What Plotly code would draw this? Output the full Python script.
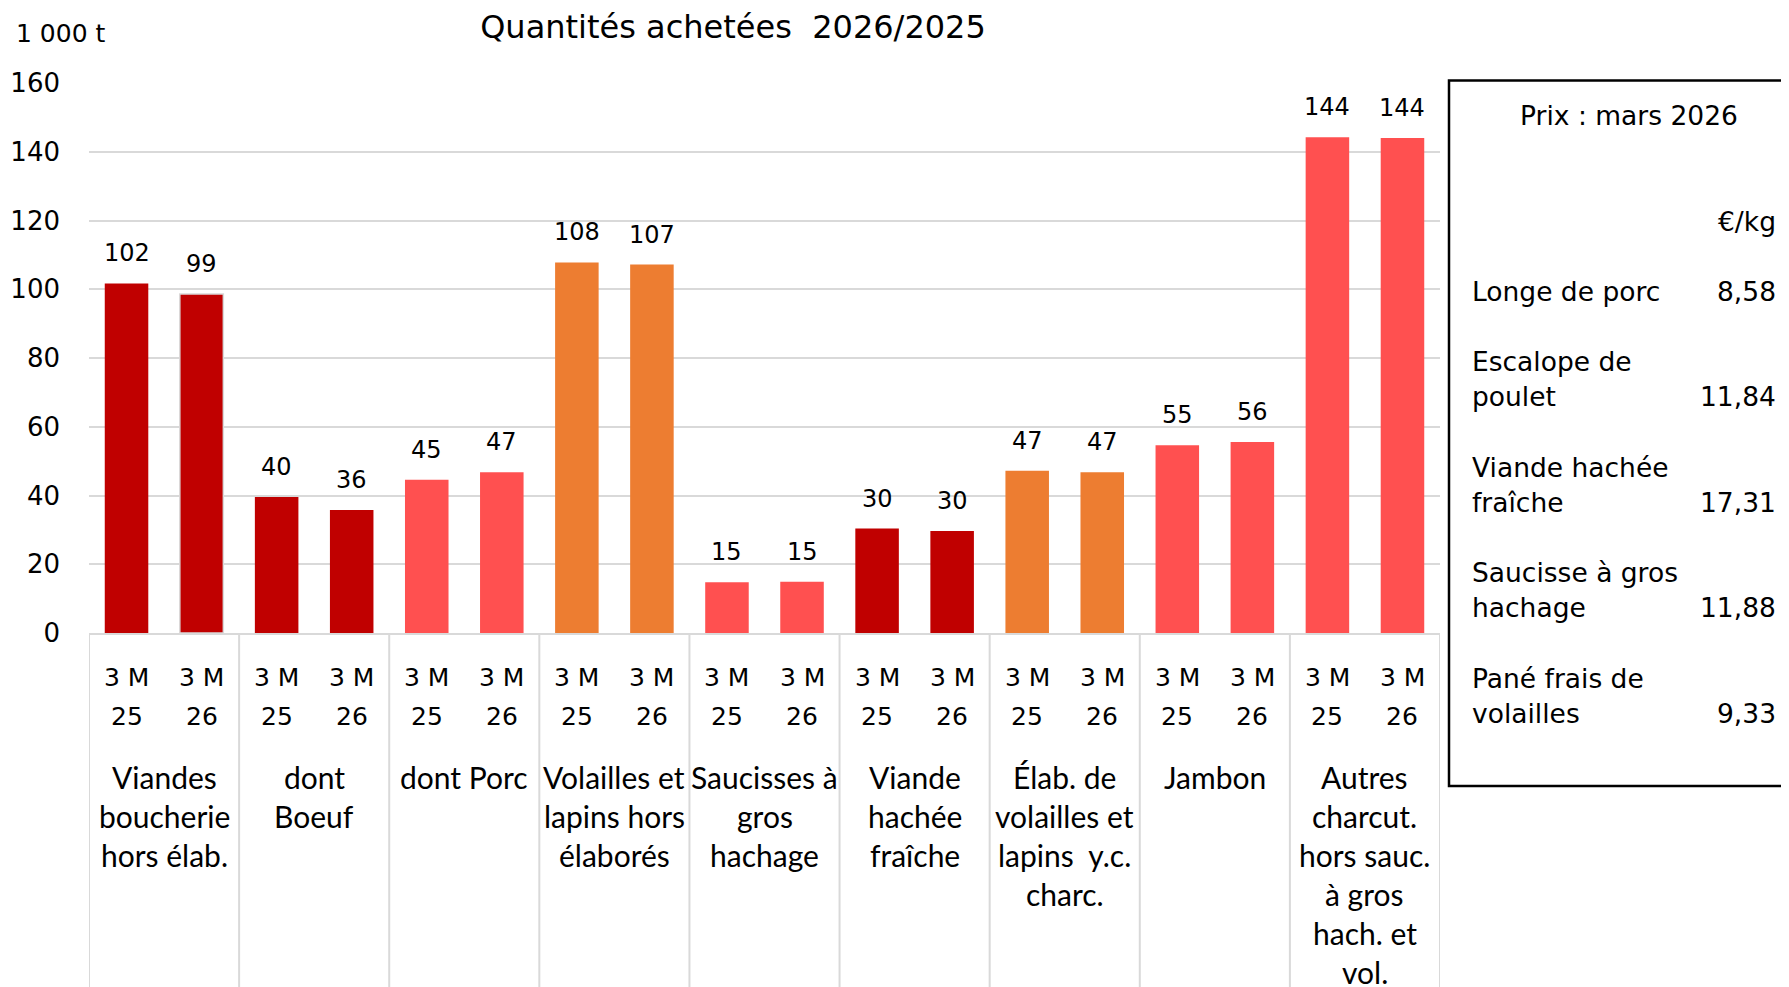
import plotly.graph_objects as go

# ---------------- data ----------------
groups = [
    "Viandes<br>boucherie<br>hors élab.",
    "dont<br>Boeuf",
    "dont Porc",
    "Volailles et<br>lapins hors<br>élaborés",
    "Saucisses à<br>gros<br>hachage",
    "Viande<br>hachée<br>fraîche",
    "Élab. de<br>volailles et<br>lapins  y.c.<br>charc.",
    "Jambon",
    "Autres<br>charcut.<br>hors sauc.<br>à gros<br>hach. et<br>vol.",
]
periods = ["25", "26"]
period_prefix = "3 M"
values = [101.7, 98.6, 39.6, 35.8, 44.6, 46.8, 107.8, 107.2, 14.8, 14.9,
          30.4, 29.7, 47.2, 46.8, 54.6, 55.6, 144.2, 144.0]
group_color_keys = ["dark", "dark", "light", "orange", "light", "dark", "orange", "light", "light"]

price_title = "Prix : mars 2026"
price_unit = "€/kg"
price_labels = ["Longe de porc", "Escalope de<br>poulet", "Viande hachée<br>fraîche",
                "Saucisse à gros<br>hachage", "Pané frais de<br>volailles"]
price_values = ["8,58", "11,84", "17,31", "11,88", "9,33"]

title_text = "Quantités achetées  2026/2025"
unit_text = "1 000 t"
y_ticks = [0, 20, 40, 60, 80, 100, 120, 140, 160]

# ---------------- styling / layout ----------------
palette = {"dark": "#C00000", "orange": "#ED7D31", "light": "#FF5050"}
OFF = 8                      # page body margin
W, H = 1789 - OFF, 987 - OFF
L, R, T, B = 89, 1440, 83, 633   # plot area in page pixels
GRID = "#D9D9D9"
NUM_FONT = "DejaVu Sans"
CAT_FONT = "Lato"


def px_x(px):
    return (px - L) / (R - L)


def px_y(py):
    return (B - py) / (B - T)


def lines_of(text):
    return text.split("<br>")


n_per = len(periods)
xpos = list(range(len(values)))
bar_colors = [palette[group_color_keys[i // n_per]] for i in xpos]
line_w = [1.5 if i == 1 else 0 for i in xpos]

fig = go.Figure()
fig.add_trace(go.Bar(
    x=xpos, y=values,
    marker=dict(color=bar_colors, line=dict(color=GRID, width=line_w)),
    hoverinfo="skip",
))

ann = []
# data labels
for i, v in zip(xpos, values):
    ann.append(dict(x=i, y=v, xref="x", yref="y", text=f"{v:.0f}", showarrow=False,
                    yanchor="middle", yshift=30,
                    font=dict(family=NUM_FONT, size=24, color="black")))
# inner category labels
for i in xpos:
    ann.append(dict(x=i, y=px_y(677), xref="x", yref="paper", text=period_prefix,
                    showarrow=False, yanchor="middle",
                    font=dict(family=NUM_FONT, size=25, color="black")))
    ann.append(dict(x=i, y=px_y(716), xref="x", yref="paper", text=periods[i % n_per],
                    showarrow=False, yanchor="middle",
                    font=dict(family=NUM_FONT, size=25, color="black")))
# group labels (line by line, 39 px spacing)
for g, name in enumerate(groups):
    for k, ln in enumerate(lines_of(name)):
        ann.append(dict(x=g * n_per + (n_per - 1) / 2, y=px_y(777 + 39 * k),
                        xref="x", yref="paper", text=ln, showarrow=False,
                        yanchor="middle", font=dict(family=CAT_FONT, size=30, color="black")))
# unit label
ann.append(dict(x=px_x(14), y=px_y(34), xref="paper", yref="paper", text=unit_text,
                showarrow=False, xanchor="left", yanchor="middle",
                font=dict(family=NUM_FONT, size=25, color="black")))
# price panel
PF = 26.5
ann.append(dict(x=px_x(1629), y=px_y(115), xref="paper", yref="paper", text=price_title,
                showarrow=False, xanchor="center", yanchor="middle",
                font=dict(family=NUM_FONT, size=PF, color="black")))
ann.append(dict(x=px_x(1778), y=px_y(222), xref="paper", yref="paper", text=price_unit,
                showarrow=False, xanchor="right", yanchor="middle",
                font=dict(family=NUM_FONT, size=PF, color="black")))
row_last_line = [291, 396, 502, 607, 713]
for lab, val, yl in zip(price_labels, price_values, row_last_line):
    lns = lines_of(lab)
    for k, ln in enumerate(lns):
        ann.append(dict(x=px_x(1470), y=px_y(yl - 34.5 * (len(lns) - 1 - k)),
                        xref="paper", yref="paper", text=ln, showarrow=False,
                        xanchor="left", yanchor="middle",
                        font=dict(family=NUM_FONT, size=PF, color="black")))
    ann.append(dict(x=px_x(1778), y=px_y(yl), xref="paper", yref="paper", text=val,
                    showarrow=False, xanchor="right", yanchor="middle",
                    font=dict(family=NUM_FONT, size=PF, color="black")))

shapes = []
for g in range(len(groups) + 1):
    shapes.append(dict(type="line", xref="x", yref="paper",
                       x0=g * n_per - 0.5, x1=g * n_per - 0.5,
                       y0=0, y1=px_y(1000), line=dict(color=GRID, width=2)))
shapes.append(dict(type="rect", xref="paper", yref="paper",
                   x0=px_x(1449), x1=px_x(1830), y0=px_y(786), y1=px_y(80.5),
                   line=dict(color="black", width=2.5), fillcolor="rgba(0,0,0,0)"))

fig.update_layout(
    width=W, height=H,
    margin=dict(l=L - OFF, r=W - (R - OFF), t=T - OFF, b=H - (B - OFF), pad=0),
    paper_bgcolor="white", plot_bgcolor="white",
    showlegend=False, bargap=0.42,
    title=dict(text=title_text, x=px_x(733), xref="paper", xanchor="center",
               y=1 - (27 - OFF) / H, yref="container", yanchor="middle",
               font=dict(family=NUM_FONT, size=32, color="black"), automargin=False),
    xaxis=dict(range=[-0.5, len(values) - 0.5], showticklabels=False, showgrid=False,
               zeroline=False, showline=True, linecolor=GRID, linewidth=2, ticks="",
               automargin=False),
    yaxis=dict(range=[0, 160], tickvals=y_ticks, showgrid=True, gridcolor=GRID,
               gridwidth=1.5, zeroline=False, showline=False, ticks="",
               ticklabelstandoff=28, automargin=False,
               tickfont=dict(family=NUM_FONT, size=26, color="black")),
    annotations=ann, shapes=shapes,
)

fig.write_html("out.html")
